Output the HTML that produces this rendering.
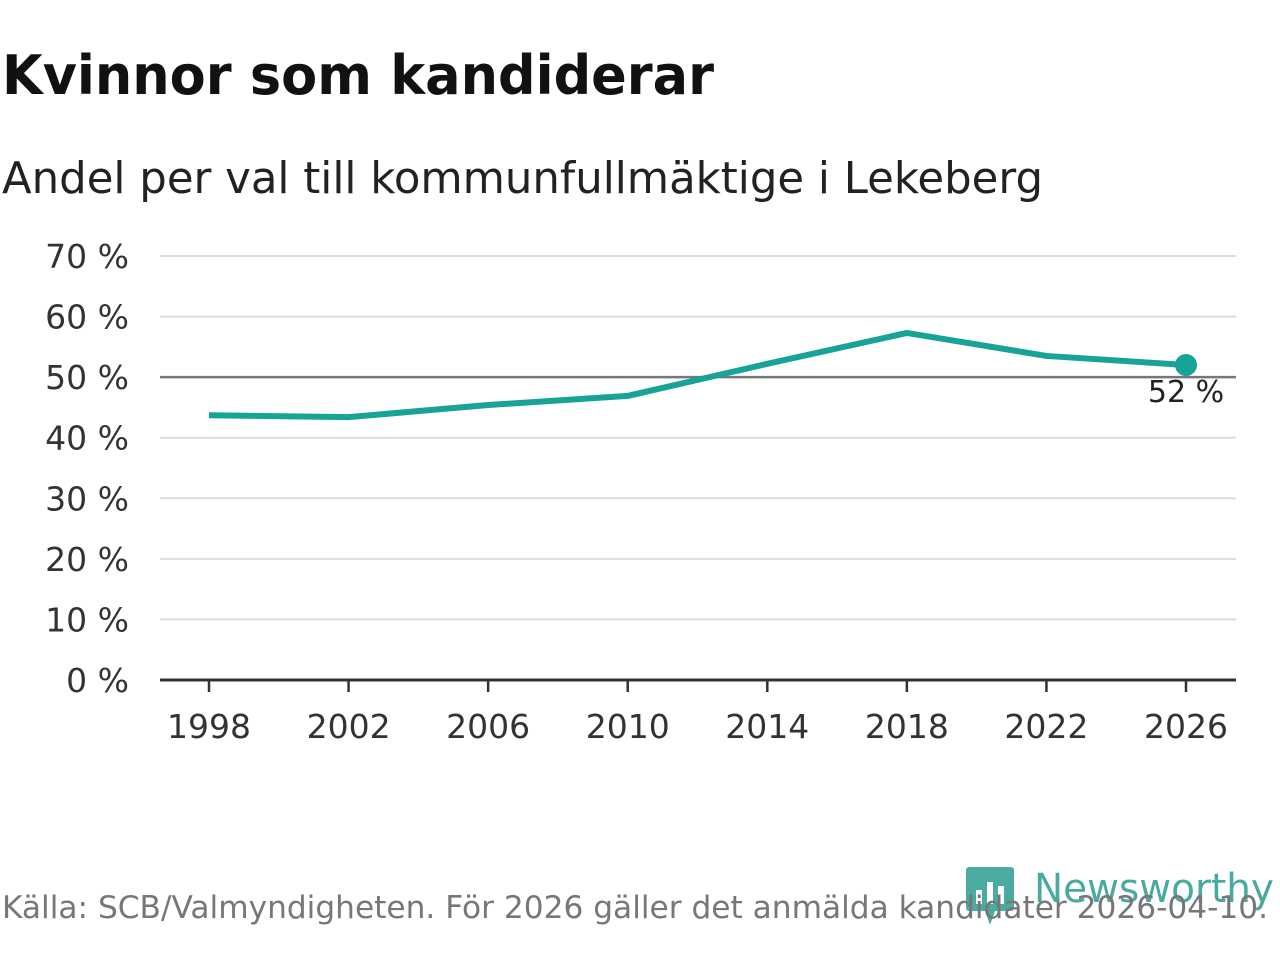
<!DOCTYPE html>
<html><head><meta charset="utf-8"><style>
body{margin:0;background:#fff;width:1280px;height:960px;overflow:hidden;font-family:"DejaVu Sans","Liberation Sans",sans-serif;}
</style></head><body>
<svg width="1280" height="960">
<text x="2" y="94" font-size="54" font-weight="bold" fill="#111" textLength="712" lengthAdjust="spacingAndGlyphs">Kvinnor som kandiderar</text>
<text x="2" y="193" font-size="44" fill="#222" textLength="1041" lengthAdjust="spacingAndGlyphs">Andel per val till kommunfullmäktige i Lekeberg</text>
<g id="grid"></g>
<g id="yt"></g>
<g id="xt"></g>
<g id="series"></g>
<g>
<rect x="966" y="867" width="48" height="44" rx="3" fill="#2a9d8f" opacity="0.85"/>
<rect x="976" y="890" width="6" height="14" fill="#fff"/><rect x="987" y="882" width="6" height="22" fill="#fff"/><rect x="998" y="886" width="6" height="18" fill="#fff"/>
<polygon points="985,911 995,911 990,925" fill="#2a9d8f" opacity="0.85"/>
<text x="1034" y="902" font-size="40" fill="#2a9d8f" opacity="0.85" textLength="240" lengthAdjust="spacingAndGlyphs">Newsworthy</text>
</g>
<text x="2" y="918" font-size="31" fill="#777" textLength="1266" lengthAdjust="spacingAndGlyphs">Källa: SCB/Valmyndigheten. För 2026 gäller det anmälda kandidater 2026-04-10.</text>
</svg>
<script>
const years=[1998,2002,2006,2010,2014,2018,2022,2026];
const values=[43.7,43.4,45.4,46.9,52.2,57.3,53.5,52.0];
const yTicks=[0,10,20,30,40,50,60,70];
const NS="http://www.w3.org/2000/svg";
const X=y=>209+(y-1998)*(1186-209)/28;
const Y=v=>680-v*(680-256)/70;
function mk(t,a,p){const e=document.createElementNS(NS,t);for(const k in a)e.setAttribute(k,a[k]);p.appendChild(e);return e;}
const grid=document.getElementById('grid'),yt=document.getElementById('yt'),xt=document.getElementById('xt'),s=document.getElementById('series');
yTicks.forEach(v=>{
 const l=mk('line',{x1:160,x2:1236,y1:Y(v),y2:Y(v),stroke:v===50?'#777':(v===0?'#333':'#ddd'),'stroke-width':v===0?3:(v===50?2.5:2)},grid);
 
 
 const t=mk('text',{x:129,y:Y(v)+12,'text-anchor':'end','font-size':33,fill:'#333'},yt);t.textContent=v+' %';
 
 
});
years.forEach(y=>{
 const l=mk('line',{x1:X(y),x2:X(y),y1:680,y2:692,stroke:'#333','stroke-width':2.5},xt);
 
 
 const t=mk('text',{x:X(y),y:738,'text-anchor':'middle','font-size':33,fill:'#333'},xt);t.textContent=y;
 
 
});
const p=mk('polyline',{points:years.map((y,i)=>X(y)+','+Y(values[i])).join(' '),fill:'none',stroke:'#17a398','stroke-width':6,'stroke-linejoin':'round'},s);


const n=years.length-1;
const c=mk('circle',{cx:X(years[n]),cy:Y(values[n]),r:11,fill:'#17a398'},s);


const lt=mk('text',{x:X(years[n]),y:Y(values[n])+37,'text-anchor':'middle','font-size':30,fill:'#222'},s);lt.textContent=Math.round(values[n])+' %';


</script>
</body></html>
